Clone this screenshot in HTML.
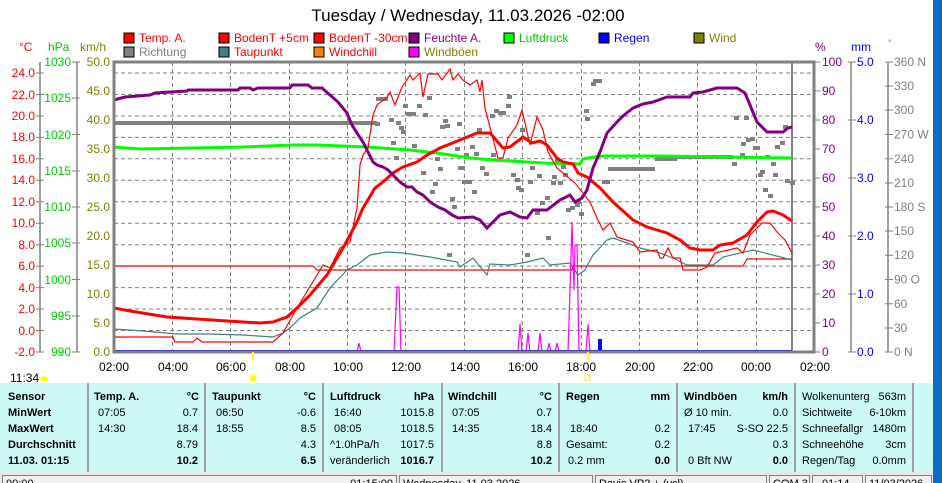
<!DOCTYPE html>
<html><head><meta charset="utf-8"><style>
html,body{margin:0;padding:0;background:#fff;overflow:hidden}
svg{display:block;font-family:"Liberation Sans",sans-serif}
</style></head><body>
<svg width="942" height="483" viewBox="0 0 942 483" xmlns="http://www.w3.org/2000/svg">
<rect width="942" height="483" fill="#fff"/>
<text x="468" y="21" font-size="17" text-anchor="middle" fill="#000">Tuesday / Wednesday, 11.03.2026  -02:00</text>
<!-- legend -->
<g font-size="12">
<rect x="124" y="33" width="10" height="10" fill="#f00" stroke="#000"/><text x="139" y="42" fill="#f00">Temp. A.</text>
<rect x="219" y="33" width="10" height="10" fill="#f00" stroke="#000"/><text x="234" y="42" fill="#f00">BodenT +5cm</text>
<rect x="314" y="33" width="10" height="10" fill="#f00" stroke="#000"/><text x="329" y="42" fill="#f00">BodenT -30cm</text>
<rect x="409" y="33" width="10" height="10" fill="#800080" stroke="#000"/><text x="424" y="42" fill="#800080">Feuchte A.</text>
<rect x="504" y="33" width="10" height="10" fill="#0f0" stroke="#000"/><text x="519" y="42" fill="#0c0">Luftdruck</text>
<rect x="599" y="33" width="10" height="10" fill="#00f" stroke="#000"/><text x="614" y="42" fill="#00f">Regen</text>
<rect x="694" y="33" width="10" height="10" fill="#808000" stroke="#000"/><text x="709" y="42" fill="#808000">Wind</text>
<rect x="124" y="47" width="10" height="10" fill="#808080" stroke="#000"/><text x="139" y="56" fill="#808080">Richtung</text>
<rect x="219" y="47" width="10" height="10" fill="#408080" stroke="#000"/><text x="234" y="56" fill="#f00">Taupunkt</text>
<rect x="314" y="47" width="10" height="10" fill="#ff8000" stroke="#000"/><text x="329" y="56" fill="#f00">Windchill</text>
<rect x="409" y="47" width="10" height="10" fill="#f0f" stroke="#000"/><text x="424" y="56" fill="#808000">Windböen</text>
</g>
<!-- units -->
<g font-size="12">
<text x="19" y="51" fill="#f00">°C</text><text x="48" y="51" fill="#0c0">hPa</text><text x="80" y="51" fill="#808000">km/h</text>
<text x="815" y="51" fill="#800080">%</text><text x="851" y="51" fill="#00f">mm</text><text x="888" y="46" fill="#808080" font-size="9">°</text>
</g>
<!-- grid -->
<g stroke="#808080" stroke-dasharray="4,3" stroke-width="1">
<line x1="114" y1="73" x2="814" y2="73"/><line x1="114" y1="94.5" x2="814" y2="94.5"/><line x1="114" y1="116" x2="814" y2="116"/><line x1="114" y1="137.4" x2="814" y2="137.4"/><line x1="114" y1="158.8" x2="814" y2="158.8"/><line x1="114" y1="180.3" x2="814" y2="180.3"/><line x1="114" y1="201.8" x2="814" y2="201.8"/><line x1="114" y1="223.2" x2="814" y2="223.2"/><line x1="114" y1="244.7" x2="814" y2="244.7"/><line x1="114" y1="266.1" x2="814" y2="266.1"/><line x1="114" y1="287.6" x2="814" y2="287.6"/><line x1="114" y1="309" x2="814" y2="309"/><line x1="114" y1="330.5" x2="814" y2="330.5"/>
<line x1="172.5" y1="62" x2="172.5" y2="352"/><line x1="230.5" y1="62" x2="230.5" y2="352"/><line x1="289.5" y1="62" x2="289.5" y2="352"/><line x1="347.5" y1="62" x2="347.5" y2="352"/><line x1="405.5" y1="62" x2="405.5" y2="352"/><line x1="464.5" y1="62" x2="464.5" y2="352"/><line x1="522.5" y1="62" x2="522.5" y2="352"/><line x1="581.5" y1="62" x2="581.5" y2="352"/><line x1="639.5" y1="62" x2="639.5" y2="352"/><line x1="697.5" y1="62" x2="697.5" y2="352"/><line x1="756.5" y1="62" x2="756.5" y2="352"/>
</g>
<line x1="792" y1="62" x2="792" y2="352" stroke="#808080" stroke-width="2"/>
<!-- series -->
<polyline fill="none" stroke="#808080" stroke-width="4" points="114,123 377,123"/>
<g fill="#808080">
<rect x="376" y="97" width="12" height="4"/><rect x="427" y="96" width="5" height="4"/><rect x="403" y="104" width="5" height="4"/><rect x="406" y="112" width="5" height="4"/><rect x="411" y="112" width="5" height="4"/><rect x="417" y="104" width="5" height="4"/><rect x="423" y="113" width="5" height="4"/><rect x="375" y="122" width="5" height="4"/><rect x="389" y="118" width="5" height="4"/><rect x="396" y="121" width="5" height="4"/><rect x="399" y="126" width="5" height="4"/><rect x="401" y="130" width="5" height="4"/><rect x="391" y="141" width="5" height="4"/><rect x="412" y="144" width="5" height="4"/><rect x="394" y="156" width="5" height="4"/><rect x="421" y="171" width="5" height="4"/><rect x="433" y="182" width="5" height="4"/><rect x="430" y="190" width="5" height="4"/><rect x="438" y="167" width="5" height="4"/><rect x="435" y="157" width="5" height="4"/><rect x="443" y="119" width="5" height="4"/><rect x="440" y="125" width="5" height="4"/><rect x="445" y="124" width="5" height="4"/><rect x="457" y="122" width="5" height="4"/><rect x="455" y="147" width="5" height="4"/><rect x="464" y="153" width="5" height="4"/><rect x="460" y="166" width="5" height="4"/><rect x="462" y="180" width="5" height="4"/><rect x="466" y="180" width="5" height="4"/><rect x="450" y="197" width="5" height="4"/><rect x="452" y="205" width="5" height="4"/><rect x="447" y="253" width="5" height="4"/>
<rect x="507" y="95" width="5" height="4"/><rect x="506" y="104" width="5" height="4"/><rect x="494" y="109" width="5" height="4"/><rect x="498" y="111" width="5" height="4"/><rect x="501" y="111" width="5" height="4"/><rect x="490" y="114" width="5" height="4"/><rect x="520" y="128" width="5" height="4"/><rect x="477" y="128" width="5" height="4"/><rect x="470" y="145" width="5" height="4"/><rect x="458" y="166" width="5" height="4"/><rect x="474" y="152" width="5" height="4"/><rect x="491" y="153" width="5" height="4"/><rect x="480" y="166" width="5" height="4"/><rect x="484" y="172" width="5" height="4"/><rect x="462" y="180" width="5" height="4"/><rect x="467" y="180" width="5" height="4"/><rect x="472" y="190" width="5" height="4"/><rect x="511" y="173" width="5" height="4"/><rect x="515" y="178" width="5" height="4"/><rect x="516" y="186" width="5" height="4"/><rect x="519" y="188" width="5" height="4"/><rect x="528" y="180" width="5" height="4"/><rect x="530" y="166" width="5" height="4"/><rect x="537" y="174" width="5" height="4"/><rect x="535" y="211" width="5" height="4"/><rect x="545" y="196" width="5" height="4"/><rect x="540" y="201" width="5" height="4"/><rect x="552" y="175" width="5" height="4"/><rect x="551" y="181" width="5" height="4"/><rect x="558" y="181" width="5" height="4"/><rect x="555" y="158" width="5" height="4"/><rect x="561" y="165" width="5" height="4"/><rect x="563" y="173" width="5" height="4"/><rect x="566" y="208" width="5" height="4"/><rect x="570" y="206" width="5" height="4"/><rect x="575" y="203" width="5" height="4"/><rect x="576" y="200" width="5" height="4"/><rect x="579" y="212" width="5" height="4"/><rect x="584" y="109" width="5" height="4"/><rect x="585" y="117" width="5" height="4"/><rect x="593" y="79" width="9" height="4"/><rect x="591" y="82" width="5" height="4"/><rect x="546" y="236" width="5" height="4"/><rect x="525" y="253" width="5" height="4"/><rect x="602" y="180" width="8" height="4"/><rect x="608" y="167" width="47" height="4"/><rect x="655" y="157" width="22" height="4"/><rect x="677" y="155" width="56" height="4"/>
<rect x="734" y="116" width="5" height="4"/><rect x="744" y="116" width="5" height="4"/><rect x="741" y="142" width="5" height="4"/><rect x="746" y="138" width="5" height="4"/><rect x="750" y="137" width="5" height="4"/><rect x="753" y="146" width="5" height="4"/><rect x="755" y="146" width="5" height="4"/><rect x="740" y="153" width="5" height="4"/><rect x="732" y="162" width="5" height="4"/><rect x="765" y="155" width="5" height="4"/><rect x="771" y="162" width="5" height="4"/><rect x="760" y="170" width="5" height="4"/><rect x="758" y="173" width="5" height="4"/><rect x="773" y="173" width="5" height="4"/><rect x="763" y="188" width="5" height="4"/><rect x="768" y="194" width="5" height="4"/><rect x="775" y="145" width="5" height="4"/><rect x="780" y="141" width="5" height="4"/><rect x="783" y="125" width="5" height="4"/><rect x="785" y="179" width="5" height="4"/><rect x="790" y="181" width="5" height="4"/>
</g>
<polyline fill="none" stroke="#0f0" stroke-width="3" points="114,147 140,149 193,148 243,147 293,145 317,145 367,147 410,150 437,153 470,158 493,160 543,163 580,164 583,159 600,156 660,156 792,158"/>
<polyline fill="none" stroke="#f00" stroke-width="1.2" points="114,266 313,266 317,270 572,270 573,266 743,266 747,259 792,259"/>
<polyline fill="none" stroke="#408080" stroke-width="1.2" points="114,329 143,331 177,334 210,334 243,335 273,337 283,333 290,328 300,318 317,308 330,288 347,270 357,265 370,255 387,252 403,253 430,257 457,262 460,267 473,258 487,275 490,264 510,265 527,262 543,258 550,265 570,263 578,275 585,270 593,255 607,240 613,238 627,243 640,248 660,253 673,258 687,265 713,265 723,257 753,250 792,260"/>
<polyline fill="none" stroke="#f00" stroke-width="1.2" points="114,337 173,337 175,342 193,342 197,338 202,342 273,342 283,333 297,308 317,275 323,265 330,268 340,248 350,242 357,208 360,165 363,155 368,148 373,115 377,105 387,97 390,92 395,105 402,87 410,75 413,80 420,73 423,97 428,74 438,74 442,80 450,69 453,80 458,74 463,80 470,85 477,80 480,92 482,80 485,108 492,135 498,158 503,158 508,138 517,125 522,110 525,123 530,145 537,117 543,130 548,152 557,168 575,183 590,202 597,218 603,230 610,223 617,237 633,242 640,252 657,250 660,258 663,258 668,248 673,258 680,258 683,270 700,270 707,267 715,253 737,248 743,253 750,235 762,223 770,223 777,232 785,240 792,253"/>
<polyline fill="none" stroke="#f00" stroke-width="3" points="114,308 130,311 167,317 227,321 260,323 273,322 287,317 297,308 310,295 327,275 343,248 357,222 363,208 375,188 383,182 393,173 403,167 417,162 427,155 440,148 460,140 477,133 490,133 503,148 510,147 523,137 532,143 540,141 547,145 557,158 563,162 573,164 578,173 587,177 600,188 613,202 633,220 647,227 667,233 680,240 690,248 700,250 713,250 720,245 733,243 747,235 757,222 767,212 773,211 783,215 792,221"/>
<polyline fill="none" stroke="#800080" stroke-width="3" points="114,100 125,97 150,95 155,93 187,91 188,90 238,90 240,88 250,88 253,90 258,88 290,88 292,85 308,85 312,88 322,88 330,95 338,102 347,113 352,125 357,133 363,142 373,162 377,165 383,167 388,170 393,175 400,182 407,187 412,187 417,192 423,195 430,202 438,207 445,210 452,215 458,218 473,217 480,220 487,228 493,222 500,215 510,212 520,217 527,218 533,210 547,210 560,200 570,195 575,202 582,198 587,190 593,168 600,152 607,133 617,122 623,116 633,108 643,104 653,102 667,97 690,97 693,93 703,92 717,88 737,88 745,93 750,105 757,122 767,132 783,132 788,128 792,127"/>
<polyline fill="none" stroke="#f0f" stroke-width="1.2" points="357,352 359,343 361,352 394,352 397,287 399,287 401,352 518,352 520,324 522,352 526,352 528,333 530,352 538,352 540,333 542,352 547,352 549,343 551,352 555,352 557,343 559,352 568,352 570,290 572,222 574,290 575,245 577,245 579,352 586,352 588,324 590,352"/>
<rect x="598" y="339" width="4" height="13" fill="#00f"/>
<line x1="114" y1="351" x2="792" y2="351" stroke="#00f" stroke-width="2"/>
<!-- frame -->
<rect x="114" y="62" width="700" height="290" fill="none" stroke="#808080" stroke-width="3"/>
<!-- left axes -->
<g stroke="#808080" stroke-width="1.5">
<line x1="40" y1="62" x2="40" y2="352"/><line x1="77" y1="62" x2="77" y2="352"/>
<line x1="851" y1="62" x2="851" y2="352"/><line x1="888" y1="62" x2="888" y2="352"/>
</g>
<g font-size="12" fill="#f00" text-anchor="end">
<text x="35" y="77">24.0</text><text x="35" y="99">22.0</text><text x="35" y="120">20.0</text><text x="35" y="141">18.0</text><text x="35" y="163">16.0</text><text x="35" y="184">14.0</text><text x="35" y="206">12.0</text><text x="35" y="227">10.0</text><text x="35" y="249">8.0</text><text x="35" y="270">6.0</text><text x="35" y="292">4.0</text><text x="35" y="313">2.0</text><text x="35" y="335">0.0</text><text x="35" y="356">-2.0</text>
</g>
<g stroke="#808080"><path d="M36 73H44M36 94.5H44M36 116H44M36 137.4H44M36 158.8H44M36 180.3H44M36 201.8H44M36 223.2H44M36 244.7H44M36 266.1H44M36 287.6H44M36 309H44M36 330.5H44M36 352H44"/>
<path d="M72 62H80M72 98H80M72 134.5H80M72 171H80M72 207H80M72 243H80M72 279.5H80M72 316H80M72 352H80"/>
<path d="M814 62H820M814 91H820M814 120H820M814 149H820M814 178H820M814 207H820M814 236H820M814 265H820M814 294H820M814 323H820M814 352H820"/>
<path d="M848 62H856M848 120H856M848 178H856M848 236H856M848 294H856M848 352H856"/>
<path d="M885 62H893M885 86H893M885 110H893M885 134.5H893M885 158.7H893M885 183H893M885 207H893M885 231H893M885 255.3H893M885 279.5H893M885 303.7H893M885 328H893M885 352H893"/></g>
<g font-size="12" fill="#0c0" text-anchor="end">
<text x="71" y="66">1030</text><text x="71" y="102">1025</text><text x="71" y="139">1020</text><text x="71" y="175">1015</text><text x="71" y="211">1010</text><text x="71" y="247">1005</text><text x="71" y="284">1000</text><text x="71" y="320">995</text><text x="71" y="356">990</text>
</g>
<g font-size="12" fill="#808000" text-anchor="end">
<text x="110" y="66">50.0</text><text x="110" y="95">45.0</text><text x="110" y="124">40.0</text><text x="110" y="153">35.0</text><text x="110" y="182">30.0</text><text x="110" y="211">25.0</text><text x="110" y="240">20.0</text><text x="110" y="269">15.0</text><text x="110" y="298">10.0</text><text x="110" y="327">5.0</text><text x="110" y="356">0.0</text>
</g>
<g font-size="12" fill="#800080">
<text x="822" y="66">100</text><text x="822" y="95">90</text><text x="822" y="124">80</text><text x="822" y="153">70</text><text x="822" y="182">60</text><text x="822" y="211">50</text><text x="822" y="240">40</text><text x="822" y="269">30</text><text x="822" y="298">20</text><text x="822" y="327">10</text><text x="822" y="356">0</text>
</g>
<g font-size="12" fill="#00f">
<text x="857" y="66">5.0</text><text x="857" y="124">4.0</text><text x="857" y="182">3.0</text><text x="857" y="240">2.0</text><text x="857" y="298">1.0</text><text x="857" y="356">0.0</text>
</g>
<g font-size="12" fill="#808080">
<text x="894" y="66">360 N</text><text x="894" y="90">330</text><text x="894" y="114">300</text><text x="894" y="138.5">270 W</text><text x="894" y="163">240</text><text x="894" y="187">210</text><text x="894" y="211">180 S</text><text x="894" y="235">150</text><text x="894" y="259">120</text><text x="894" y="283.5">90   O</text><text x="894" y="308">60</text><text x="894" y="332">30</text><text x="894" y="356">0    N</text>
</g>
<!-- x labels -->
<g font-size="12" fill="#000" text-anchor="middle">
<text x="114" y="371">02:00</text><text x="173" y="371">04:00</text><text x="231" y="371">06:00</text><text x="290" y="371">08:00</text><text x="348" y="371">10:00</text><text x="406" y="371">12:00</text><text x="465" y="371">14:00</text><text x="523" y="371">16:00</text><text x="581" y="371">18:00</text><text x="640" y="371">20:00</text><text x="698" y="371">22:00</text><text x="756" y="371">00:00</text><text x="815" y="371">02:00</text>
</g>
<text x="10" y="382" font-size="12" fill="#000">11:34</text>
<ellipse cx="44" cy="379" rx="4" ry="2.5" fill="#ff0"/>
<rect x="252" y="352" width="2" height="8" fill="#ff0"/><circle cx="253" cy="378" r="3.5" fill="#ff0"/>
<rect x="587" y="352" width="2" height="8" fill="#ff0"/><rect x="585" y="375" width="5" height="5" fill="none" stroke="#ee0"/>
<!-- table -->
<rect x="0" y="383" width="933" height="89" fill="#ccf8f6"/>
<g stroke="#a0a0a0" stroke-width="2"><path d="M88 383V472M205 383V472M323 383V472M442 383V472M559 383V472M677 383V472M795 383V472M913 383V472"/></g>
<g font-size="11" fill="#000">
<g font-weight="bold"><text x="8" y="400">Sensor</text><text x="8" y="416">MinWert</text><text x="8" y="432">MaxWert</text><text x="8" y="448">Durchschnitt</text><text x="8" y="464">11.03. 01:15</text>
<text x="94" y="400">Temp. A.</text><text x="212" y="400">Taupunkt</text><text x="330" y="400">Luftdruck</text><text x="448" y="400">Windchill</text><text x="566" y="400">Regen</text><text x="684" y="400">Windböen</text></g>
<g font-weight="bold" text-anchor="end"><text x="199" y="400">°C</text><text x="316" y="400">°C</text><text x="434" y="400">hPa</text><text x="552" y="400">°C</text><text x="670" y="400">mm</text><text x="788" y="400">km/h</text>
<text x="198" y="464">10.2</text><text x="316" y="464">6.5</text><text x="434" y="464">1016.7</text><text x="552" y="464">10.2</text><text x="670" y="464">0.0</text><text x="788" y="464">0.0</text></g>
<text x="98" y="416">07:05</text><text x="98" y="432">14:30</text>
<text x="216" y="416">06:50</text><text x="216" y="432">18:55</text>
<text x="334" y="416">16:40</text><text x="334" y="432">08:05</text><text x="330" y="448">^1.0hPa/h</text><text x="330" y="464">veränderlich</text>
<text x="452" y="416">07:05</text><text x="452" y="432">14:35</text>
<text x="570" y="432">18:40</text><text x="566" y="448">Gesamt:</text><text x="568" y="464">0.2 mm</text>
<text x="684" y="416">Ø 10 min.</text><text x="688" y="432">17:45</text><text x="688" y="464">0 Bft NW</text>
<text x="802" y="400">Wolkenunterg</text><text x="802" y="416">Sichtweite</text><text x="802" y="432">Schneefallgr</text><text x="802" y="448">Schneehöhe</text><text x="802" y="464">Regen/Tag</text>
<g text-anchor="end">
<text x="198" y="416">0.7</text><text x="198" y="432">18.4</text><text x="198" y="448">8.79</text>
<text x="316" y="416">-0.6</text><text x="316" y="432">8.5</text><text x="316" y="448">4.3</text>
<text x="434" y="416">1015.8</text><text x="434" y="432">1018.5</text><text x="434" y="448">1017.5</text>
<text x="552" y="416">0.7</text><text x="552" y="432">18.4</text><text x="552" y="448">8.8</text>
<text x="670" y="432">0.2</text><text x="670" y="448">0.2</text>
<text x="788" y="416">0.0</text><text x="788" y="432">S-SO 22.5</text><text x="788" y="448">0.3</text>
<text x="906" y="400">563m</text><text x="906" y="416">6-10km</text><text x="906" y="432">1480m</text><text x="906" y="448">3cm</text><text x="906" y="464">0.0mm</text>
</g></g>
<!-- status bar -->
<rect x="0" y="472" width="933" height="11" fill="#e8e8e8"/>
<g fill="#f0f0f0" stroke="#808080"><rect x="2.5" y="475.5" width="394" height="10"/><rect x="399.5" y="475.5" width="193" height="10"/><rect x="595.5" y="475.5" width="171" height="10"/><rect x="769.5" y="475.5" width="40" height="10"/><rect x="812.5" y="475.5" width="50" height="10"/><rect x="865.5" y="475.5" width="66" height="10"/></g>
<g font-size="11" fill="#000"><text x="6" y="487">00:00</text><text x="393" y="487" text-anchor="end">01:15:00</text><text x="403" y="487">Wednesday, 11.03.2026</text><text x="599" y="487">Davis VP2 + (ycl)</text><text x="773" y="487">COM 3</text><text x="822" y="487">01:14</text><text x="869" y="487">11/03/2026</text></g>
<rect x="933" y="0" width="9" height="483" fill="#0a6cc4"/>
</svg>
</body></html>
